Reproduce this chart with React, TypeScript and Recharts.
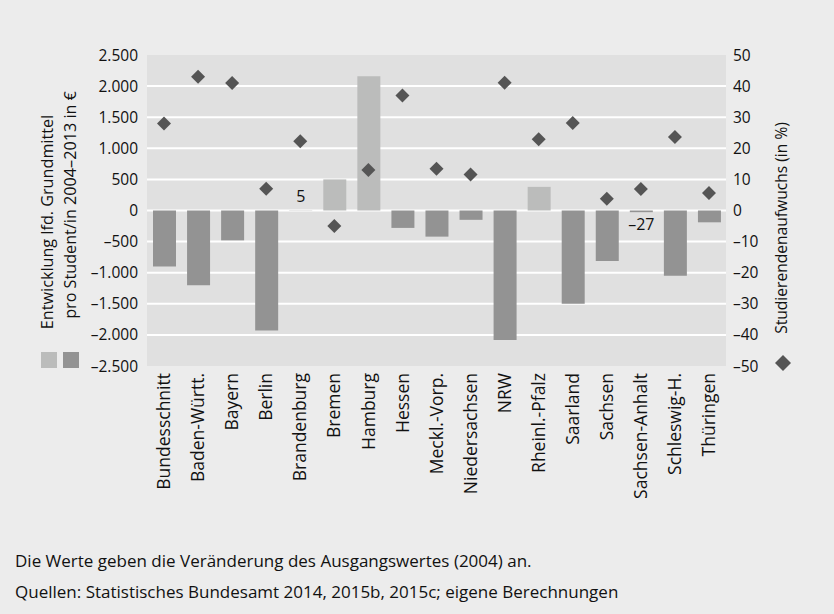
import React from 'react';
import {
  ComposedChart,
  Bar,
  Scatter,
  Cell,
  XAxis,
  YAxis,
  CartesianGrid,
  LabelList,
} from 'recharts';

const states = [
  'Bundesschnitt',
  'Baden-Württ.',
  'Bayern',
  'Berlin',
  'Brandenburg',
  'Bremen',
  'Hamburg',
  'Hessen',
  'Meckl.-Vorp.',
  'Niedersachsen',
  'NRW',
  'Rheinl.-Pfalz',
  'Saarland',
  'Sachsen',
  'Sachsen-Anhalt',
  'Schleswig-H.',
  'Thüringen',
];

// change of funds per student 2004–2013 in €
const fundsChange = [
  -900, -1200, -480, -1930, 5, 500, 2160, -280, -420, -150, -2080, 380, -1500, -810, -27, -1050, -190,
];

// growth of student numbers in %
const studentGrowth = [
  28, 43, 41, 7, 22.3, -5, 13, 37, 13.4, 11.6, 41.1, 22.9, 28.1, 3.8, 6.9, 23.6, 5.6,
];

const leftTicks = [-2500, -2000, -1500, -1000, -500, 0, 500, 1000, 1500, 2000, 2500];
const rightTicks = [-50, -40, -30, -20, -10, 0, 10, 20, 30, 40, 50];
const gridValues = leftTicks.slice(1, -1);

const data = states.map((name, i) => ({
  name,
  funds: fundsChange[i],
  growth: studentGrowth[i],
}));

const LIGHT = '#bbbcbb';
const DARK = '#939393';
const MARKER = '#555555';
const TEXT = '#111111';
const FONT = '"Open Sans", "Noto Sans", sans-serif';

function fmt(v: number) {
  const abs = Math.abs(v)
    .toString()
    .replace(/\B(?=(\d{3})+(?!\d))/g, '.');
  return (v < 0 ? '–' : '') + abs;
}

const StateTick = (props: any) => {
  const { x, y, payload } = props;
  return (
    <g transform={`translate(${x},${y})`}>
      <text
        transform="rotate(-90)"
        textAnchor="end"
        dy="0.35em"
        fontSize={17.5}
        fill={TEXT}
        fontFamily={FONT}
      >
        {payload.value}
      </text>
    </g>
  );
};

const Diamond = (props: any) => {
  const { cx, cy } = props;
  if (cx == null || cy == null) return null;
  const r = 7;
  return (
    <polygon
      points={`${cx},${cy - r} ${cx + r},${cy} ${cx},${cy + r} ${cx - r},${cy}`}
      fill={MARKER}
    />
  );
};

// only the tiny bars get a value label
const SmallValueLabel = (props: any) => {
  const { x, y, width, height, value } = props;
  if (Math.abs(value) >= 50) return null;
  const top = Math.min(y, y + height);
  const bottom = Math.max(y, y + height);
  const ty = value >= 0 ? top - 8 : bottom + 18;
  return (
    <text x={x + width / 2} y={ty} textAnchor="middle" fontSize={16} fill={TEXT} fontFamily={FONT}>
      {fmt(value)}
    </text>
  );
};

export default function App() {
  return (
    <div
      style={{
        position: 'absolute',
        left: 0,
        top: 0,
        width: 834,
        height: 614,
        background: '#ececec',
        fontFamily: FONT,
        color: TEXT,
        overflow: 'hidden',
      }}
    >
      <ComposedChart
        width={834}
        height={540}
        data={data}
        margin={{ top: 55, right: 48, bottom: 44, left: 87 }}
      >
        <CartesianGrid
          yAxisId="left"
          vertical={false}
          fill="#e0e0e0"
          stroke="#ffffff"
          strokeWidth={2}
          horizontalValues={gridValues}
        />
        <XAxis
          dataKey="name"
          interval={0}
          tickLine={false}
          axisLine={false}
          tickSize={0}
          tickMargin={7}
          height={130}
          tick={<StateTick />}
        />
        <YAxis
          yAxisId="left"
          domain={[-2500, 2500]}
          ticks={leftTicks}
          tickFormatter={fmt}
          tickLine={false}
          axisLine={false}
          tickMargin={3}
          width={60}
          tick={{ fill: TEXT, fontSize: 15.5, fontFamily: FONT }}
        />
        <YAxis
          yAxisId="right"
          orientation="right"
          domain={[-50, 50]}
          ticks={rightTicks}
          tickFormatter={fmt}
          tickLine={false}
          axisLine={false}
          tickMargin={1}
          width={60}
          tick={{ fill: TEXT, fontSize: 15.5, fontFamily: FONT }}
        />
        <Bar yAxisId="left" dataKey="funds" barSize={23} isAnimationActive={false}>
          {data.map((d) => (
            <Cell key={d.name} fill={d.funds >= 0 ? LIGHT : DARK} />
          ))}
          <LabelList dataKey="funds" content={<SmallValueLabel />} />
        </Bar>
        <Scatter
          yAxisId="right"
          dataKey="growth"
          shape={<Diamond />}
          isAnimationActive={false}
        />
      </ComposedChart>

      {/* axis titles and legend swatches */}
      <svg
        width={834}
        height={614}
        style={{ position: 'absolute', left: 0, top: 0, pointerEvents: 'none' }}
      >
        <text
          transform="translate(47,222) rotate(-90)"
          textAnchor="middle"
          dy="0.35em"
          fontSize={16.2}
          fill={TEXT}
          fontFamily={FONT}
        >
          Entwicklung lfd. Grundmittel
        </text>
        <text
          transform="translate(70,205) rotate(-90)"
          textAnchor="middle"
          dy="0.35em"
          fontSize={16.2}
          fill={TEXT}
          fontFamily={FONT}
        >
          pro Student/in 2004–2013 in €
        </text>
        <rect x={41} y={352} width={16} height={16} fill={LIGHT} />
        <rect x={63} y={352} width={16} height={16} fill={DARK} />
        <text
          transform="translate(782,228) rotate(-90)"
          textAnchor="middle"
          dy="0.35em"
          fontSize={15.6}
          fill={TEXT}
          fontFamily={FONT}
        >
          Studierendenaufwuchs (in %)
        </text>
        <polygon points="783,355 791,363 783,371 775,363" fill={MARKER} />
      </svg>

      <div
        style={{
          position: 'absolute',
          left: 15,
          top: 549,
          fontSize: 17,
          lineHeight: '24px',
          whiteSpace: 'nowrap',
        }}
      >
        Die Werte geben die Veränderung des Ausgangswertes (2004) an.
      </div>
      <div
        style={{
          position: 'absolute',
          left: 15,
          top: 580,
          fontSize: 17,
          lineHeight: '24px',
          whiteSpace: 'nowrap',
        }}
      >
        Quellen: Statistisches Bundesamt 2014, 2015b, 2015c; eigene Berechnungen
      </div>
    </div>
  );
}
